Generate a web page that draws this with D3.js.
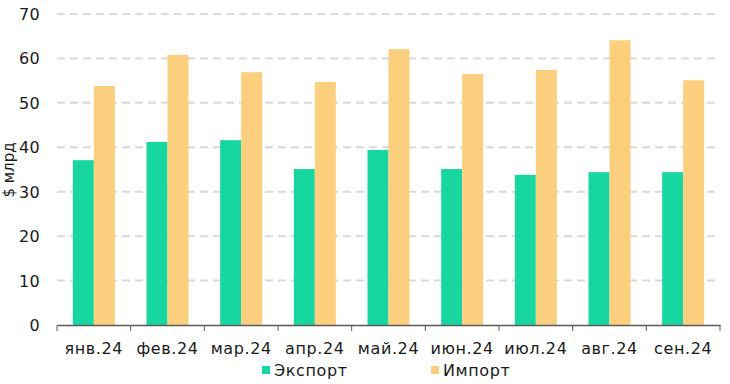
<!DOCTYPE html>
<html>
<head>
<meta charset="utf-8">
<script src="https://cdn.jsdelivr.net/npm/d3@7"></script>
<style>
  body { margin: 0; background: #fff; }
  text { font-family: "DejaVu Sans", Verdana, sans-serif; fill: #1a1a1a; }
</style>
</head>
<body>
<svg id="chart" width="730" height="384"></svg>
<script>
// ---- data ----
var months = ["янв.24","фев.24","мар.24","апр.24","май.24","июн.24","июл.24","авг.24","сен.24"];
var exportVals = [37.1, 41.2, 41.6, 35.1, 39.4, 35.1, 33.8, 34.4, 34.4];
var importVals = [53.8, 60.8, 56.9, 54.7, 62.1, 56.5, 57.4, 64.1, 55.1];
var seriesNames = ["Экспорт", "Импорт"];
var seriesColors = ["#17d69f", "#fccf7f"];
var yTicks = [0, 10, 20, 30, 40, 50, 60, 70];

var svg = d3.select("#chart");
var plotL = 57, plotR = 720, plotT = 14, plotB = 325;

var x = d3.scaleBand().domain(months).range([plotL, plotR]);
var y = d3.scaleLinear().domain([0, 70]).range([plotB, plotT]);
var bw = x.bandwidth() * 0.285;
var x1 = d3.scaleBand().domain([0, 1]).range([0, bw * 2]);

// grid
svg.append("g")
    .selectAll("line")
    .data(yTicks.filter(function(d) { return d > 0; }))
    .enter()
    .append("line")
    .attr("x1", plotL).attr("x2", plotR)
    .attr("y1", y).attr("y2", y)
    .attr("stroke", "#d9d9d9")
    .attr("stroke-width", 2)
    .attr("stroke-dasharray", "8,5");

// y labels
svg.append("g")
    .selectAll("text")
    .data(yTicks)
    .enter()
    .append("text")
    .attr("x", 40)
    .attr("y", function(d) { return y(d) + 6; })
    .attr("text-anchor", "end")
    .style("font-size", "16px")
    .style("letter-spacing", "0.3px")
    .text(function(d) { return d; });

svg.append("text")
    .attr("transform", "translate(14,170) rotate(-90)")
    .attr("text-anchor", "middle")
    .style("font-size", "15px")
    .text("$ млрд");

// bars
var vals = [exportVals, importVals];
var groups = svg.append("g")
    .selectAll("g")
    .data(months)
    .enter()
    .append("g")
    .attr("transform", function(d) { return "translate(" + (x(d) + (x.bandwidth() - bw * 2) / 2) + ",0)"; });

groups.selectAll("rect")
    .data(function(d, i) { return [0, 1].map(function(s) { return {s: s, v: vals[s][i]}; }); })
    .enter()
    .append("rect")
    .attr("x", function(d) { return x1(d.s); })
    .attr("width", x1.bandwidth())
    .attr("y", function(d) { return y(d.v); })
    .attr("height", function(d) { return plotB - y(d.v); })
    .attr("fill", function(d) { return seriesColors[d.s]; });

// x axis
var xa = svg.append("g")
    .attr("transform", "translate(0," + plotB + ")")
    .call(d3.axisBottom(x).tickSize(0).tickSizeOuter(0));
xa.select(".domain").attr("stroke", "#595959").attr("stroke-width", 1.3);
xa.selectAll("text")
    .attr("dy", 0)
    .attr("y", 29)
    .style("font-size", "16px")
    .style("letter-spacing", "0.6px")
    .style("font-family", "DejaVu Sans, Verdana, sans-serif")
    .attr("fill", "#1a1a1a");
svg.append("g")
    .selectAll("line")
    .data(months.concat(["end"]))
    .enter()
    .append("line")
    .attr("x1", function(d) { return d === "end" ? plotR : x(d); })
    .attr("x2", function(d) { return d === "end" ? plotR : x(d); })
    .attr("y1", plotB).attr("y2", plotB + 6)
    .attr("stroke", "#595959");

// legend
var legX = [262, 431];
var leg = svg.append("g")
    .selectAll("g")
    .data(seriesNames)
    .enter()
    .append("g")
    .attr("transform", function(d, i) { return "translate(" + legX[i] + ",366)"; });
leg.append("rect")
    .attr("width", 8).attr("height", 8)
    .attr("fill", function(d, i) { return seriesColors[i]; });
leg.append("text")
    .attr("x", 12).attr("y", 10)
    .style("font-size", "16px")
    .style("letter-spacing", "0.6px")
    .text(function(d) { return d; });
</script>
</body>
</html>
